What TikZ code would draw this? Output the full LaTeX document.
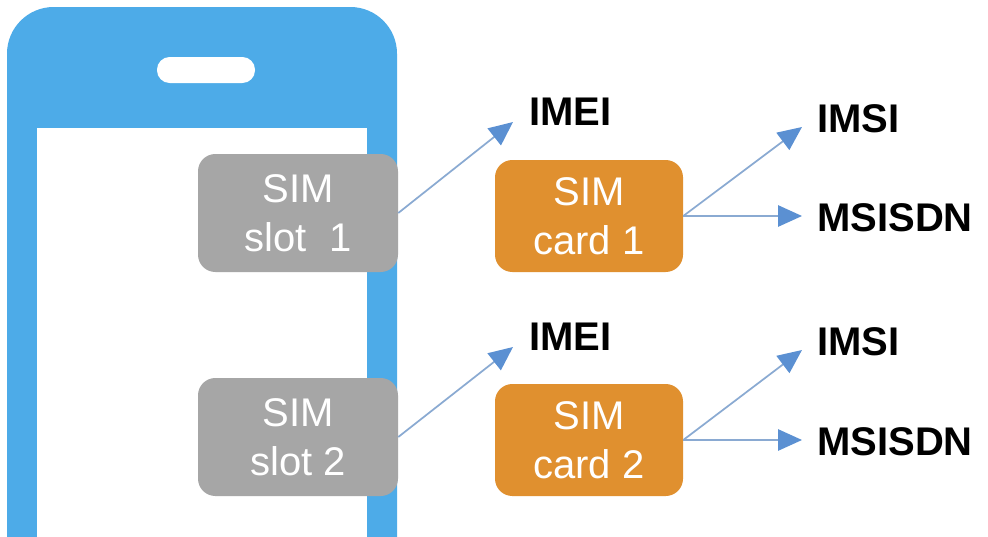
\documentclass[tikz,border=0pt]{standalone}
\usepackage{fontspec}
\setmainfont{Liberation Sans}
\usetikzlibrary{arrows.meta}
\definecolor{phoneblue}{HTML}{4DABE8}
\definecolor{slotgray}{HTML}{A6A6A6}
\definecolor{cardorange}{HTML}{E0902F}
\definecolor{linkblue}{HTML}{8AAAD2}
\definecolor{tipblue}{HTML}{5B90D2}
\begin{document}
\begin{tikzpicture}[x=0.75pt,y=-0.75pt,
  slotbox/.style={fill=slotgray,text=white,rounded corners=13pt,minimum width=150pt,minimum height=88.5pt,align=center,font=\fontsize{30}{37}\selectfont},
  cardbox/.style={slotbox,fill=cardorange,minimum width=141pt,minimum height=84pt},
  idlabel/.style={anchor=west,inner sep=0pt,font=\fontsize{30}{36}\selectfont\bfseries},
  link/.style={draw=linkblue,line width=1.3pt,-{Triangle[length=18pt,width=16pt,color=tipblue]}}]
\clip (0,0) rectangle (988,536);
\fill[white] (0,0) rectangle (988,536);
\fill[phoneblue,rounded corners=35pt] (7,7) rectangle (397,640);
\fill[white] (37,128) rectangle (367,640);
\fill[white,rounded corners=9.5pt] (157,57) rectangle (255,83);
\node[slotbox] (slotA) at (298,213) {SIM\\slot\ \ 1};
\node[slotbox] (slotB) at (298,437) {SIM\\slot 2};
\node[cardbox] (cardA) at (589,216) {SIM\\card 1};
\node[cardbox] (cardB) at (589,440) {SIM\\card 2};
\node[idlabel] (imeiA) at (529,112) {IMEI};
\node[idlabel] (imeiB) at (529,337) {IMEI};
\node[idlabel] (imsiA) at (817,119) {IMSI};
\node[idlabel] (imsiB) at (817,342) {IMSI};
\node[idlabel] (msisdnA) at (817,218) {MSISDN};
\node[idlabel] (msisdnB) at (817,442) {MSISDN};
\foreach \r in {A,B}{
  \draw[link] (slot\r.east) -- ([shift={(-16,10)}]imei\r.west);
  \draw[link] (card\r.east) -- ([shift={(-15,8)}]imsi\r.west);
  \draw[link] (card\r.east) -- ([shift={(-15,-2)}]msisdn\r.west);
}
\end{tikzpicture}
\end{document}
